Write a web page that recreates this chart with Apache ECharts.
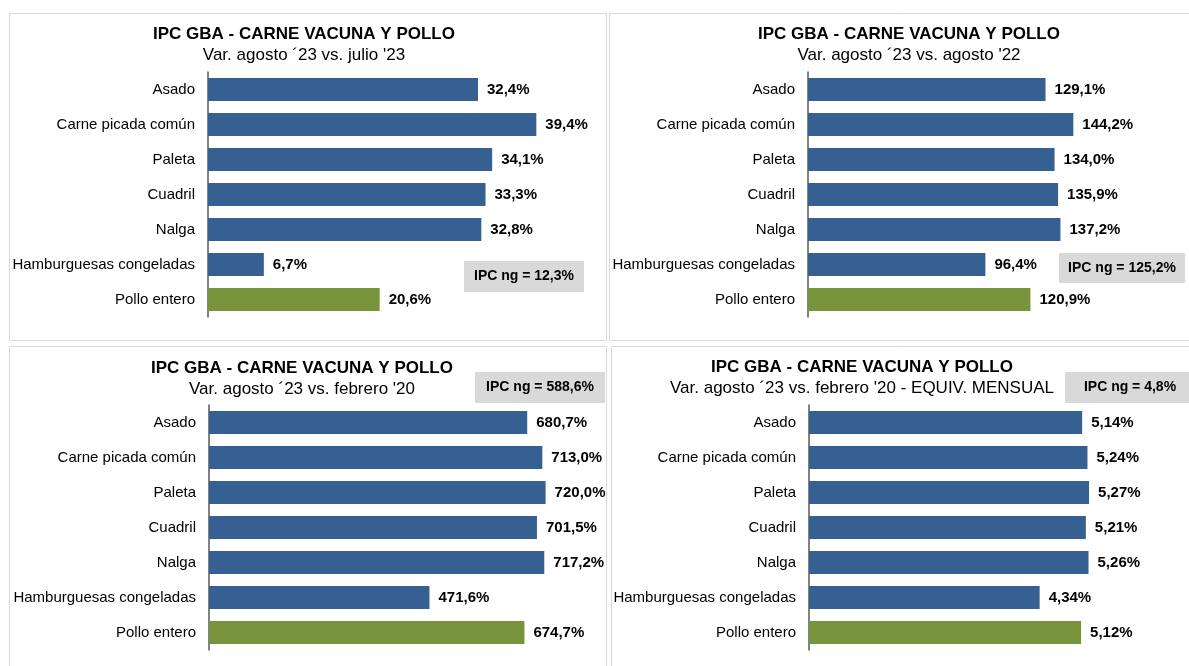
<!DOCTYPE html>
<html>
<head>
<meta charset="utf-8">
<script src="https://cdn.jsdelivr.net/npm/echarts@6/dist/echarts.min.js"></script>
<style>
html,body{margin:0;padding:0;background:#fff}
#main{width:1189px;height:666px}
</style>
</head>
<body>
<div id="main"></div>
<script>
// datos
var categories = ['Asado', 'Carne picada común', 'Paleta', 'Cuadril', 'Nalga', 'Hamburguesas congeladas', 'Pollo entero'];
var varAgoJul23 = [32.4, 39.4, 34.1, 33.3, 32.8, 6.7, 20.6];
var varAgo22 = [129.1, 144.2, 134.0, 135.9, 137.2, 96.4, 120.9];
var varFeb20 = [680.7, 713.0, 720.0, 701.5, 717.2, 471.6, 674.7];
var varFeb20Mensual = [5.14, 5.24, 5.27, 5.21, 5.26, 4.34, 5.12];
var ipcNg = [12.3, 125.2, 588.6, 4.8];
var decimales = [1, 1, 1, 2];
var titulo = 'IPC GBA - CARNE VACUNA Y POLLO';
var subtitulos = [
	'Var. agosto \u00b423 vs. julio \'23',
	'Var. agosto \u00b423 vs. agosto \'22',
	'Var. agosto \u00b423 vs. febrero \'20',
	'Var. agosto \u00b423 vs. febrero \'20 - EQUIV. MENSUAL'
];

var FONT = '"Liberation Sans", Arial, sans-serif';
var AZUL = '#376092';
var VERDE = '#77933c';

// layout de cada panel
var paneles = [
	{data: varAgoJul23, left: 208, top: 72, width: 375, max: 45, cx: 304, ty: 34, sy: 55,
		frame: [9.5, 13.5, 597, 327], box: [464, 261, 120, 31]},
	{data: varAgo22, left: 808, top: 72, width: 368, max: 200, cx: 909, ty: 34, sy: 55,
		frame: [609.5, 13.5, 600, 327], box: [1059, 253, 126, 30]},
	{data: varFeb20, left: 209, top: 405, width: 374, max: 800, cx: 302, ty: 368, sy: 389,
		frame: [9.5, 346.5, 597, 340], box: [475, 372, 130, 31]},
	{data: varFeb20Mensual, left: 809, top: 405, width: 372, max: 7, cx: 862, ty: 367, sy: 388,
		frame: [611.5, 346.5, 600, 340], box: [1065, 372, 130, 31]}
];

function fmt(v, d) {
	return v.toFixed(d).replace('.', ',') + '%';
}

var grids = [], xAxes = [], yAxes = [], series = [], graphics = [];

paneles.forEach(function(p, i) {
	graphics.push({
		type: 'rect', z: 0,
		shape: {x: p.frame[0], y: p.frame[1], width: p.frame[2], height: p.frame[3]},
		style: {fill: 'none', stroke: '#d9d9d9', lineWidth: 1}
	});
	graphics.push({
		type: 'text', x: p.cx, y: p.ty,
		style: {text: titulo, font: 'bold 17px ' + FONT, fill: '#000', align: 'center', verticalAlign: 'middle'}
	});
	graphics.push({
		type: 'text', x: p.cx, y: p.sy,
		style: {text: subtitulos[i], font: '17px ' + FONT, fill: '#000', align: 'center', verticalAlign: 'middle'}
	});
	graphics.push({
		type: 'rect',
		shape: {x: p.box[0], y: p.box[1], width: p.box[2], height: p.box[3]},
		style: {fill: '#d9d9d9'}
	});
	graphics.push({
		type: 'text', x: p.box[0] + p.box[2] / 2, y: p.box[1] + p.box[3] / 2,
		style: {text: 'IPC ng = ' + fmt(ipcNg[i], 1), font: 'bold 14px ' + FONT, fill: '#000',
			align: 'center', verticalAlign: 'middle'}
	});

	grids.push({left: p.left, top: p.top, width: p.width, height: 245, containLabel: false});
	xAxes.push({
		type: 'value', gridIndex: i, min: 0, max: p.max,
		show: false, splitLine: {show: false}
	});
	yAxes.push({
		type: 'category', gridIndex: i, inverse: true, data: categories,
		axisTick: {show: false},
		axisLine: {lineStyle: {color: '#595959', width: 1.5}},
		axisLabel: {color: '#000', fontSize: 15, fontFamily: FONT, margin: 13}
	});
	series.push({
		type: 'bar', xAxisIndex: i, yAxisIndex: i,
		data: p.data, barWidth: 23,
		itemStyle: {
			color: function(params) {
				return params.name === 'Pollo entero' ? VERDE : AZUL;
			}
		},
		label: {
			show: true, position: 'right', distance: 9,
			color: '#000', fontWeight: 'bold', fontSize: 15, fontFamily: FONT,
			formatter: function(params) { return fmt(params.value, decimales[i]); }
		},
		silent: true
	});
});

var myChart = echarts.init(document.getElementById('main'));
myChart.setOption({
	animation: false,
	backgroundColor: '#fff',
	grid: grids,
	xAxis: xAxes,
	yAxis: yAxes,
	series: series,
	graphic: graphics
});
</script>
</body>
</html>
